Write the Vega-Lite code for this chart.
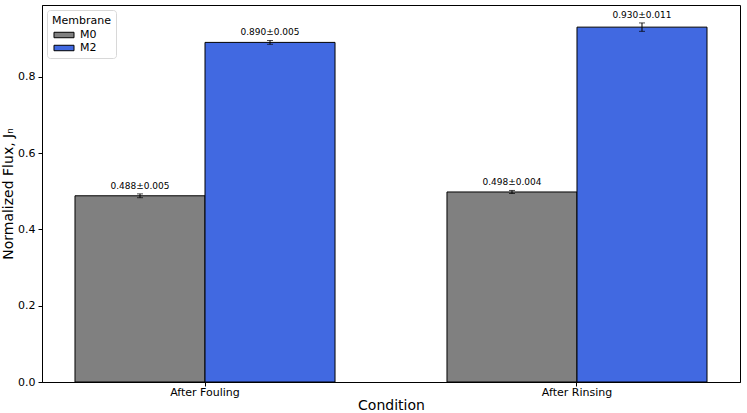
{
  "$schema": "https://vega.github.io/schema/vega-lite/v6.json",
  "autosize": {"type": "none"},
  "padding": {"left": 42, "top": 5, "right": 7, "bottom": 31},
  "width": 698,
  "height": 377,
  "background": "white",
  "config": {
    "font": "DejaVu Sans",
    "view": {"stroke": "black", "strokeWidth": 1},
    "axis": {
      "domainColor": "black",
      "tickColor": "black",
      "labelColor": "black",
      "titleColor": "black",
      "labelFontSize": 11,
      "titleFontSize": 14,
      "titleFontWeight": "normal",
      "tickSize": 4,
      "grid": false
    }
  },
  "data": {
    "values": [
      {"condition": "After Fouling", "membrane": "M0", "mean": 0.488, "err": 0.005, "top": 0.493, "label": "0.488±0.005"},
      {"condition": "After Fouling", "membrane": "M2", "mean": 0.890, "err": 0.005, "top": 0.895, "label": "0.890±0.005"},
      {"condition": "After Rinsing", "membrane": "M0", "mean": 0.498, "err": 0.004, "top": 0.502, "label": "0.498±0.004"},
      {"condition": "After Rinsing", "membrane": "M2", "mean": 0.930, "err": 0.011, "top": 0.941, "label": "0.930±0.011"}
    ]
  },
  "encoding": {
    "x": {
      "field": "condition",
      "type": "nominal",
      "title": "Condition",
      "scale": {"paddingInner": 0.301, "paddingOuter": 0.0887},
      "axis": {"labelAngle": 0, "titlePadding": 1, "labelPadding": 0}
    },
    "xOffset": {
      "field": "membrane",
      "type": "nominal",
      "scale": {"paddingInner": 0, "paddingOuter": 0}
    }
  },
  "layer": [
    {
      "mark": {"type": "bar", "stroke": "black", "strokeWidth": 1},
      "encoding": {
        "y": {
          "field": "mean",
          "type": "quantitative",
          "title": "Normalized Flux, Jₙ",
          "scale": {"domain": [0, 0.988], "nice": false, "zero": true},
          "axis": {"values": [0, 0.2, 0.4, 0.6, 0.8], "format": ".1f", "titlePadding": 2, "labelPadding": 3}
        },
        "fill": {
          "field": "membrane",
          "type": "nominal",
          "scale": {"domain": ["M0", "M2"], "range": ["#808080", "#4169E1"]},
          "legend": {
            "title": "Membrane",
            "orient": "top-left",
            "offset": 5,
            "fillColor": "white",
            "strokeColor": "#d8d8d8",
            "cornerRadius": 3,
            "padding": 5,
            "titleFontSize": 11,
            "titleFontWeight": "normal",
            "titleColor": "black",
            "titlePadding": 2,
            "labelFontSize": 11,
            "labelColor": "black",
            "labelOffset": 9,
            "symbolOffset": 5,
            "symbolType": "M-1.54,-0.42H1.54V0.42H-1.54Z",
            "symbolSize": 169,
            "symbolStrokeColor": "black",
            "symbolStrokeWidth": 1,
            "symbolOpacity": 1,
            "rowPadding": 1
          }
        }
      }
    },
    {
      "mark": {"type": "errorbar", "ticks": {"size": 6, "color": "black"}, "rule": {"color": "black"}, "color": "black"},
      "encoding": {
        "y": {"field": "mean", "type": "quantitative", "title": "Normalized Flux, Jₙ"},
        "yError": {"field": "err"}
      }
    },
    {
      "mark": {"type": "text", "baseline": "bottom", "dy": -3, "fontSize": 9, "color": "black"},
      "encoding": {
        "y": {"field": "top", "type": "quantitative", "title": "Normalized Flux, Jₙ"},
        "text": {"field": "label"}
      }
    }
  ]
}
